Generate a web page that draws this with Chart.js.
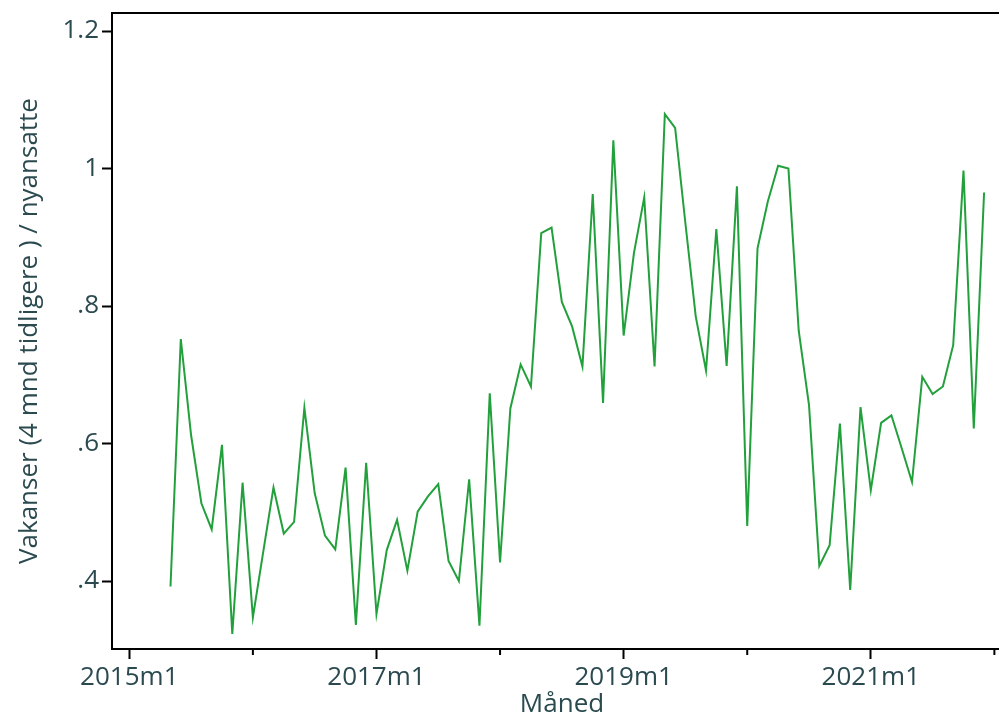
<!DOCTYPE html>
<html>
<head>
<meta charset="utf-8">
<script src="https://cdn.jsdelivr.net/npm/chart.js@4.4.1/dist/chart.umd.min.js"></script>
<style>
  html, body { margin: 0; padding: 0; background: #fff; overflow: hidden; }
  #wrap { width: 999px; height: 718px; overflow: hidden; }
</style>
</head>
<body>
<div id="wrap"><canvas id="myChart" width="1014" height="718"></canvas></div>
<script>
// months counted from 2015m1 = 0, series starts at 2015m5
const startMonth = 4;
const ratio = [
    0.392, 0.752, 0.612, 0.513, 0.475, 0.598, 0.323, 0.543, 0.347, 0.442,
    0.536, 0.469, 0.486, 0.652, 0.528, 0.466, 0.446, 0.565, 0.336, 0.572,
    0.352, 0.445, 0.489, 0.415, 0.501, 0.523, 0.541, 0.429, 0.400, 0.548,
    0.335, 0.673, 0.427, 0.651, 0.715, 0.683, 0.906, 0.914, 0.806, 0.770,
    0.712, 0.963, 0.659, 1.041, 0.757, 0.877, 0.958, 0.712, 1.079, 1.059,
    0.920, 0.785, 0.706, 0.912, 0.713, 0.974, 0.480, 0.884, 0.952, 1.004,
    1.000, 0.764, 0.656, 0.422, 0.452, 0.629, 0.387, 0.653, 0.532, 0.630,
    0.641, 0.593, 0.544, 0.697, 0.672, 0.683, 0.743, 0.997, 0.622, 0.965
];
const xMajor = [0, 24, 48, 72];
const xMajorLabels = ['2015m1', '2017m1', '2019m1', '2021m1'];
const xMinor = [12, 36, 60, 84];
const yTicks = [0.4, 0.6, 0.8, 1, 1.2];
const yTickLabels = ['.4', '.6', '.8', '1', '1.2'];

const points = ratio.map((v, i) => ({ x: startMonth + i, y: v }));

const textColor = '#2b4a50';
Chart.defaults.font.family = '"Open Sans", sans-serif';
Chart.defaults.font.size = 26;
Chart.defaults.color = textColor;

// short unlabeled ticks between the yearly labels
const minorTicks = {
    id: 'minorTicks',
    afterDraw(chart) {
        const sx = chart.scales.x;
        const c = chart.ctx;
        c.save();
        c.strokeStyle = '#000';
        c.lineWidth = 2;
        xMinor.forEach(v => {
            const px = sx.getPixelForValue(v);
            c.beginPath();
            c.moveTo(px, sx.top);
            c.lineTo(px, sx.top + 6);
            c.stroke();
        });
        c.restore();
    }
};

new Chart(document.getElementById('myChart'), {
    type: 'line',
    data: {
        datasets: [{
            data: points,
            borderColor: '#22a03c',
            borderWidth: 2,
            pointRadius: 0,
            tension: 0,
            fill: false
        }]
    },
    plugins: [minorTicks],
    options: {
        responsive: false,
        animation: false,
        layout: { padding: { left: 0, right: 2, top: 0, bottom: 0 } },
        plugins: { legend: { display: false }, tooltip: { enabled: false } },
        scales: {
            x: {
                type: 'linear',
                position: 'bottom',
                min: -1.68,
                max: 85.71,
                afterBuildTicks: (axis) => { axis.ticks = xMajor.map(v => ({ value: v })); },
                afterFit: (axis) => { axis.height = 69; axis.paddingLeft = 0; axis.paddingRight = 0; },
                ticks: {
                    autoSkip: false,
                    maxRotation: 0,
                    padding: 3,
                    callback: (value) => xMajorLabels[xMajor.indexOf(value)]
                },
                grid: { drawOnChartArea: false, drawTicks: true, tickLength: 10, tickWidth: 2, tickColor: '#000' },
                border: { display: true, color: '#000', width: 2 },
                title: {
                    display: true,
                    text: 'Måned',
                    font: { size: 26, lineHeight: 1 },
                    padding: { top: 0, bottom: 0 }
                }
            },
            xTop: {
                type: 'linear',
                position: 'top',
                min: -1.68,
                max: 85.71,
                ticks: { display: false },
                grid: { display: false, drawTicks: false },
                border: { display: true, color: '#000', width: 2 },
                afterFit: (axis) => { axis.height = 13; }
            },
            y: {
                type: 'linear',
                position: 'left',
                min: 0.3011,
                max: 1.2262,
                afterBuildTicks: (axis) => { axis.ticks = yTicks.map(v => ({ value: v })); },
                afterFit: (axis) => { axis.width = 112; axis.paddingTop = 0; axis.paddingBottom = 0; },
                ticks: {
                    padding: 3,
                    callback: (value) => yTickLabels[yTicks.indexOf(value)]
                },
                grid: { drawOnChartArea: false, drawTicks: true, tickLength: 10, tickWidth: 2, tickColor: '#000' },
                border: { display: true, color: '#000', width: 2 },
                title: {
                    display: true,
                    text: 'Vakanser (4 mnd tidligere ) / nyansatte',
                    font: { size: 26, lineHeight: 1.2 },
                    padding: { top: 14, bottom: 0 }
                }
            }
        }
    }
});
</script>
</body>
</html>
